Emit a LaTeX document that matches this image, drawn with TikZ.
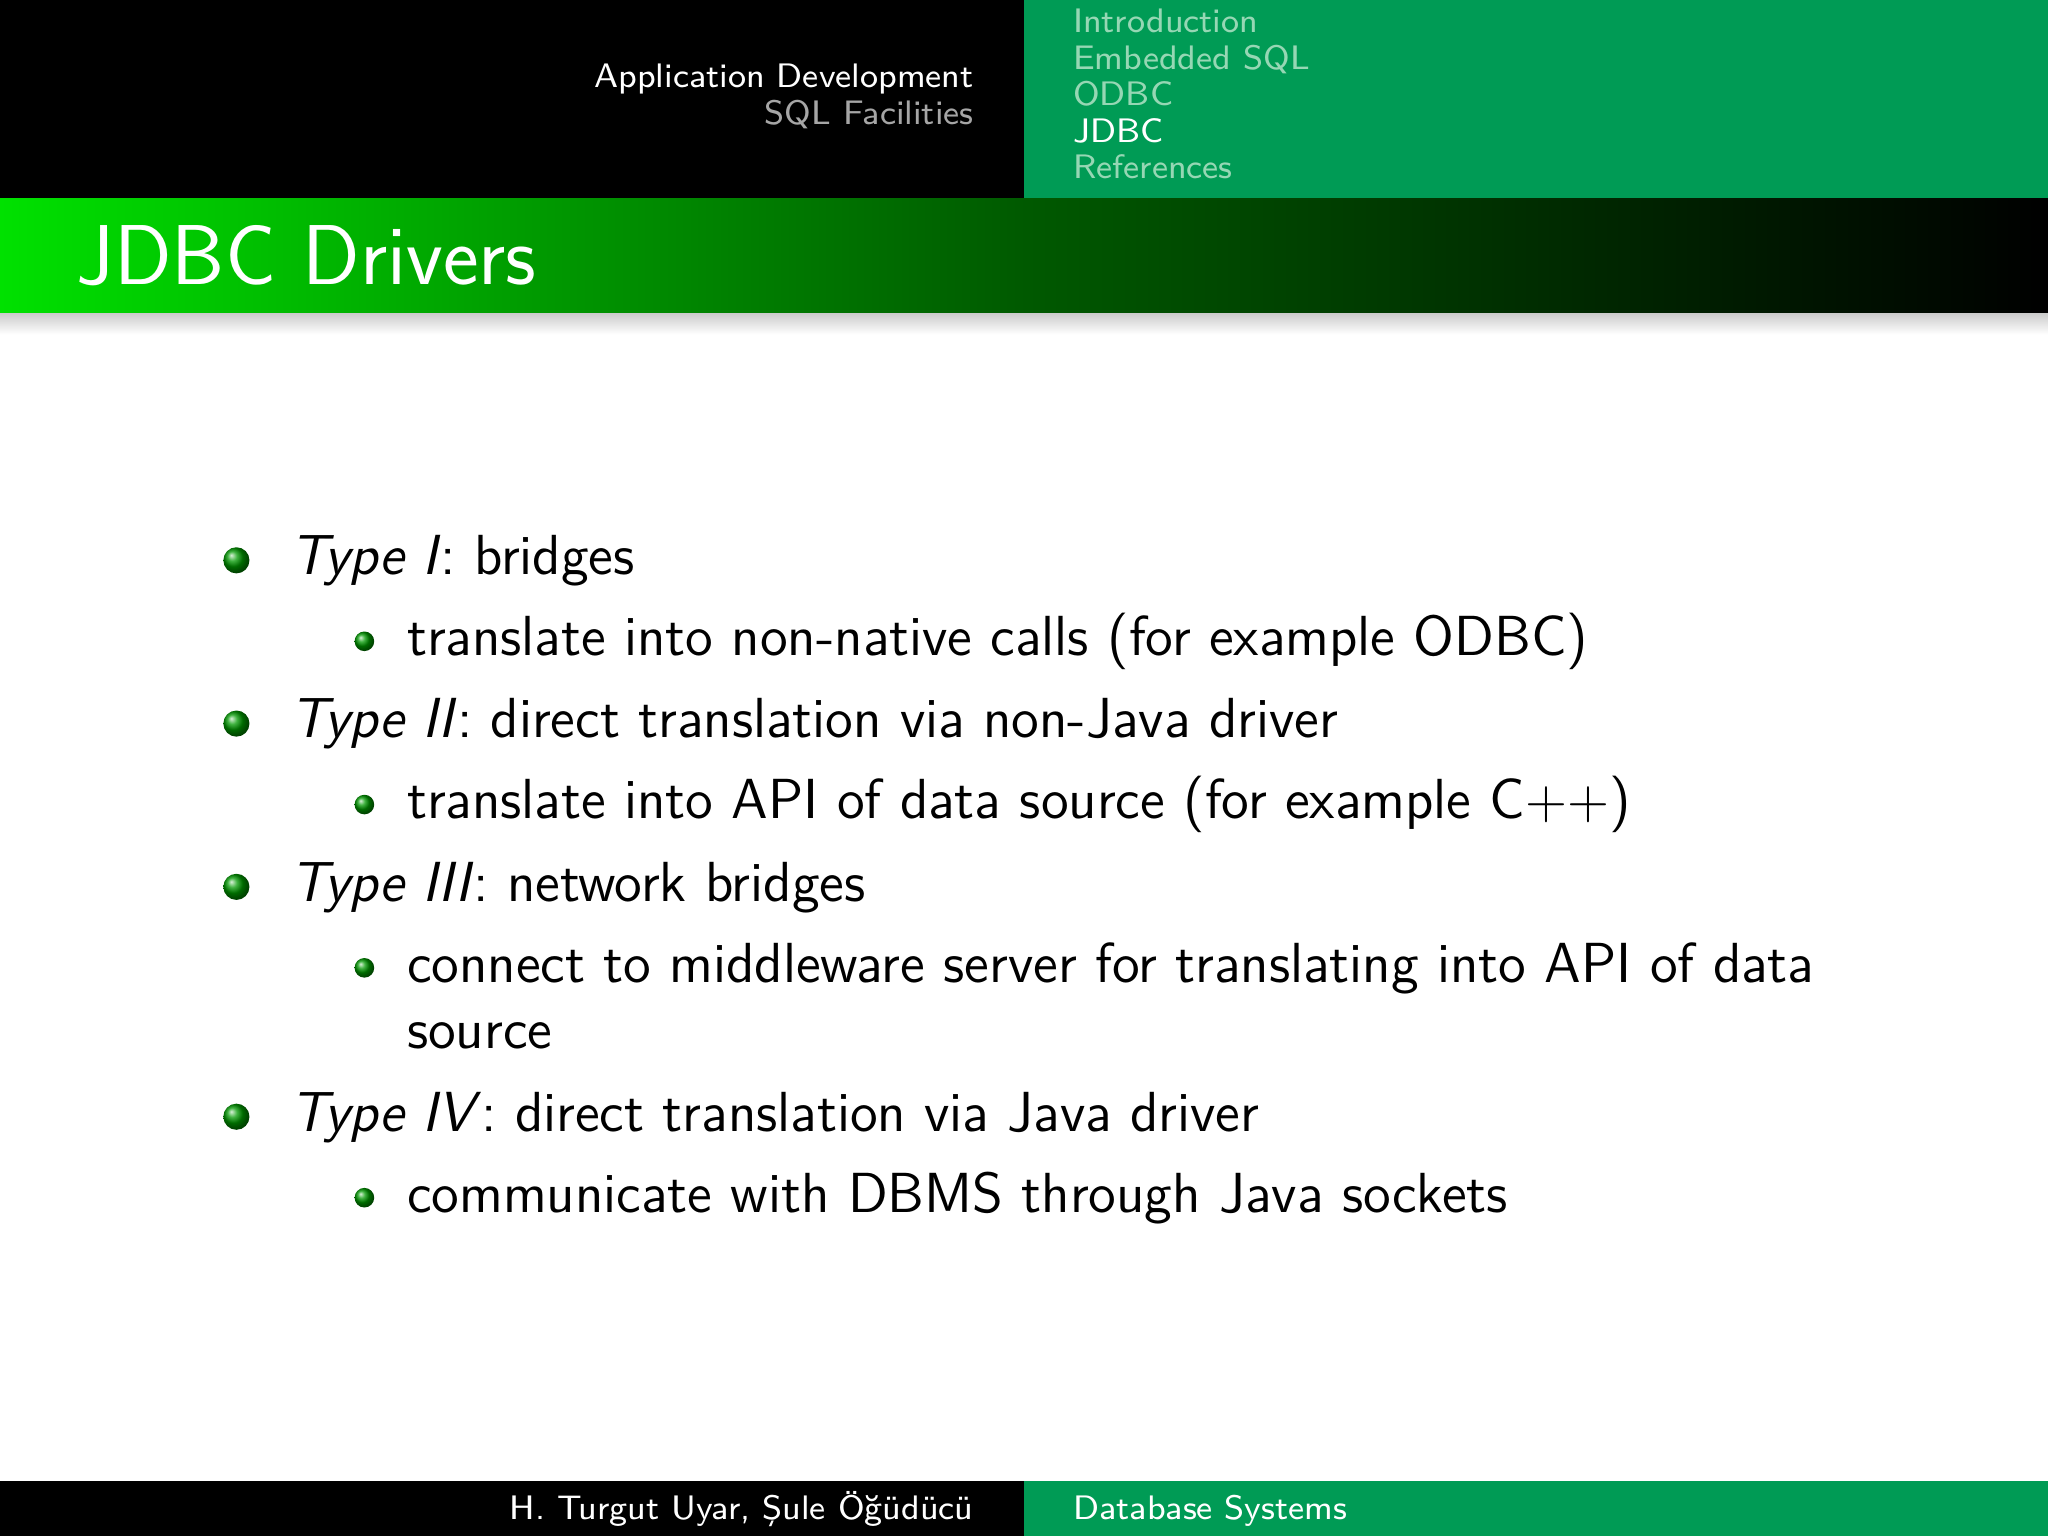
\documentclass[tikz,border=0pt]{standalone}
\renewcommand\familydefault{\sfdefault}
\usetikzlibrary{shadings}
\definecolor{hdgreen}{RGB}{0,155,85}
\definecolor{brgreen}{RGB}{0,225,0}
\definecolor{navgray}{RGB}{150,215,180}
\tikzset{
  px/.style={x=0.01cm,y=-0.01cm},
  body/.style={anchor=base west,inner sep=0pt,font=\fontsize{12.3pt}{14pt}\selectfont},
  hdr/.style={inner sep=0pt,font=\fontsize{7.4pt}{9pt}\selectfont},
  ballA/.style={shading=ball,ball color=green!60!black,circle,inner sep=0pt,minimum size=0.2cm},
  ballB/.style={shading=ball,ball color=green!60!black,circle,inner sep=0pt,minimum size=0.15cm},
}
\begin{document}
\begin{tikzpicture}[px]
\useasboundingbox (0,0) rectangle (1568,1176);
\fill[white] (0,0) rectangle (1568,1176);
% header
\fill[black] (0,0) rectangle (784,152);
\fill[hdgreen] (784,0) rectangle (1568,152);
\node[hdr,anchor=base east,text=white] (h1) at (746,67) {Application Development};
\node[hdr,anchor=base east,text=gray!70] (h2) at (746,95) {SQL Facilities};
\node[hdr,anchor=base west,text=navgray] (n1) at (821,25) {Introduction};
\node[hdr,anchor=base west,text=navgray] (n2) at (821,53) {Embedded SQL};
\node[hdr,anchor=base west,text=navgray] (n3) at (821,81) {ODBC};
\node[hdr,anchor=base west,text=white] (n4) at (821,109) {JDBC};
\node[hdr,anchor=base west,text=navgray] (n5) at (821,137) {References};
% title bar
\shade[left color=brgreen,right color=black,middle color=green!35!black] (0,152) rectangle (1568,240);
\shade[top color=gray!40,bottom color=white] (0,240) rectangle (1568,256);
\node[anchor=base west,inner sep=0pt,text=white,font=\fontsize{18.5pt}{22pt}\selectfont] (title) at (58,218) {JDBC Drivers};
% body
\node[ballA] (b1) at (181,429) {};
\node[body] (t1) at (222,440) {\itshape Type I\/\upshape: bridges};
\node[ballB] (s1) at (279,491) {};
\node[body] (u1) at (311,502) {translate into non-native calls (for example ODBC)};
\node[ballA] (b2) at (181,554) {};
\node[body] (t2) at (222,565) {\itshape Type II\/\upshape: direct translation via non-Java driver};
\node[ballB] (s2) at (279,616) {};
\node[body] (u2) at (311,627) {translate into API of data source (for example C$++$)};
\node[ballA] (b3) at (181,679) {};
\node[body] (t3) at (222,690) {\itshape Type III\/\upshape: network bridges};
\node[ballB] (s3) at (279,741) {};
\node[body] (u3) at (311,752) {connect to middleware server for translating into API of data};
\node[body] (u3b) at (311,803) {source};
\node[ballA] (b4) at (181,855) {};
\node[body] (t4) at (222,866) {\itshape Type IV\/\upshape: direct translation via Java driver};
\node[ballB] (s4) at (279,917) {};
\node[body] (u4) at (311,928) {communicate with DBMS through Java sockets};
% footer
\fill[black] (0,1134) rectangle (784,1176);
\fill[hdgreen] (784,1134) rectangle (1568,1176);
\node[hdr,anchor=base east,text=white] (f1) at (746,1163) {H. Turgut Uyar, \c{S}ule \"O\u{g}\"ud\"uc\"u};
\node[hdr,anchor=base west,text=white] (f2) at (821,1163) {Database Systems};
\end{tikzpicture}
\end{document}
